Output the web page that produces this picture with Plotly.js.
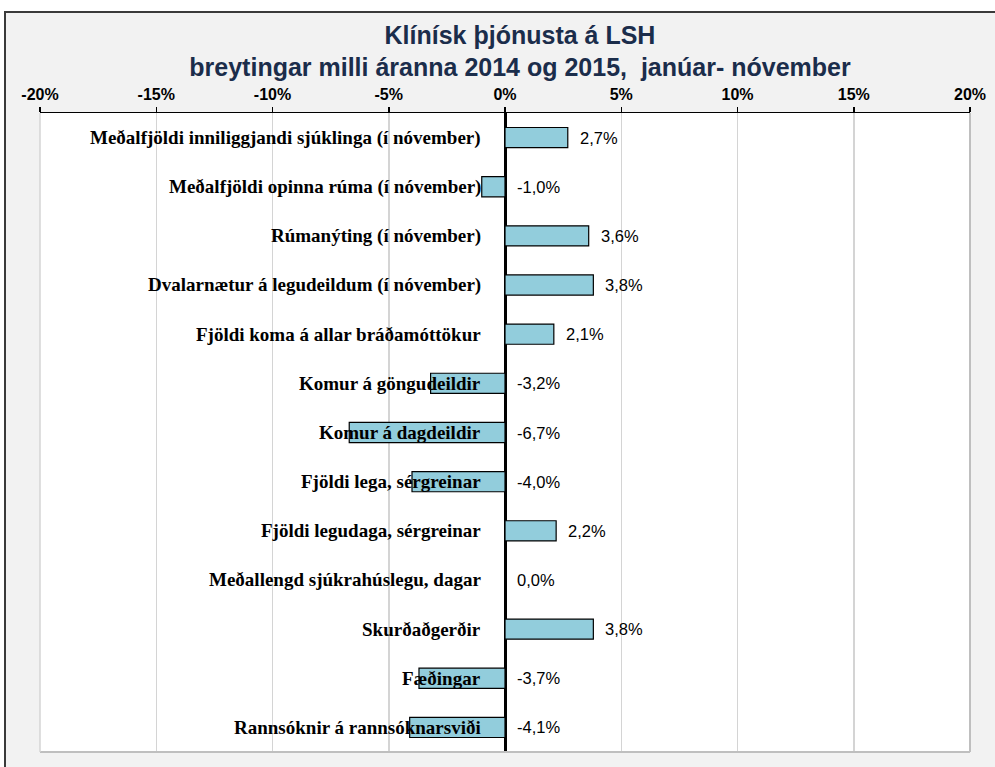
<!DOCTYPE html>
<html>
<head>
<meta charset="utf-8">
<script src="https://cdn.plot.ly/plotly-3.0.1.min.js"></script>
<style>
  html, body { margin: 0; padding: 0; background: #ffffff; }
  #frame { position: absolute; left: 4px; top: 11px; width: 1000px; height: 770px;
           background: #f2f2f2; border-left: 2px solid #3a3a3a; border-top: 2px solid #3a3a3a; }
  #chart { position: absolute; left: 0; top: 0; width: 995px; height: 767px; }
</style>
</head>
<body>
<div id="frame"></div>
<div id="chart"></div>
<script>
// ---- data ----
const categories = [
  "Meðalfjöldi inniliggjandi sjúklinga (í nóvember)",
  "Meðalfjöldi opinna rúma (í nóvember)",
  "Rúmanýting (í nóvember)",
  "Dvalarnætur á legudeildum (í nóvember)",
  "Fjöldi koma á allar bráðamóttökur",
  "Komur á göngudeildir",
  "Komur á dagdeildir",
  "Fjöldi lega, sérgreinar",
  "Fjöldi legudaga, sérgreinar",
  "Meðallengd sjúkrahúslegu, dagar",
  "Skurðaðgerðir",
  "Fæðingar",
  "Rannsóknir á rannsóknarsviði"
];
const changePct = [2.7, -1.0, 3.6, 3.8, 2.1, -3.2, -6.7, -4.0, 2.2, 0.0, 3.8, -3.7, -4.1];
const tickValues = [-20, -15, -10, -5, 0, 5, 10, 15, 20];
const tickLabels = ["-20%", "-15%", "-10%", "-5%", "0%", "5%", "10%", "15%", "20%"];

const fmt = v => v.toFixed(1).replace('.', ',') + '%';

const trace = {
  type: 'bar',
  orientation: 'h',
  x: changePct,
  y: categories,
  marker: { color: '#92cddc', line: { color: '#000000', width: 1.2 } },
  hoverinfo: 'x+y'
};

const annotations = [];
categories.forEach((c, i) => {
  annotations.push({
    x: 0, y: c, xref: 'x', yref: 'y',
    text: c, showarrow: false, xanchor: 'right', xshift: -22,
    font: { family: 'Liberation Serif, Times New Roman, serif', size: 19, color: '#000000', weight: 'bold' }
  });
  const v = changePct[i];
  annotations.push({
    x: v > 0 ? v : 0, y: c, xref: 'x', yref: 'y',
    text: fmt(v), showarrow: false, xanchor: 'left', xshift: 10,
    font: { family: 'Liberation Sans, Arial, sans-serif', size: 16.5, color: '#000000' }
  });
});

const layout = {
  width: 995, height: 767,
  margin: { l: 40, r: 25, t: 113, b: 15, pad: 0 },
  paper_bgcolor: 'rgba(0,0,0,0)',
  plot_bgcolor: '#ffffff',
  showlegend: false,
  bargap: 0.59,
  title: {
    text: 'Klínísk þjónusta á LSH<br>breytingar milli áranna 2014 og 2015,  janúar- nóvember',
    x: 0.5226, xanchor: 'center', xref: 'container',
    y: 0.943, yanchor: 'top', yref: 'container',
    font: { family: 'Liberation Sans, Arial, sans-serif', size: 25, color: '#1b2d4b', weight: 'bold' }
  },
  xaxis: {
    side: 'top',
    range: [-20, 20],
    tickvals: tickValues,
    ticktext: tickLabels,
    tickfont: { family: 'Liberation Sans, Arial, sans-serif', size: 16, color: '#000000', weight: 'bold' },
    showline: true, linecolor: '#000000', linewidth: 1.5,
    ticks: 'outside', ticklen: 5, tickcolor: '#000000', tickwidth: 1.5,
    showgrid: true, gridcolor: '#d4d4d4', gridwidth: 1.5,
    zeroline: true, zerolinecolor: '#000000', zerolinewidth: 3,
    fixedrange: true
  },
  yaxis: {
    type: 'category',
    autorange: 'reversed',
    showticklabels: false,
    showgrid: false, zeroline: false, showline: false, ticks: '',
    fixedrange: true
  },
  shapes: [
    { type: 'line', xref: 'paper', yref: 'paper', x0: 1, x1: 1, y0: 0, y1: 1,
      line: { color: '#bfbfbf', width: 2 } },
    { type: 'line', xref: 'paper', yref: 'paper', x0: 0, x1: 1, y0: 0, y1: 0,
      line: { color: '#bfbfbf', width: 2 } },
    { type: 'line', xref: 'paper', yref: 'paper', x0: 0, x1: 0, y0: 0, y1: 1,
      line: { color: '#d4d4d4', width: 1.5 } }
  ],
  annotations: annotations
};

Plotly.newPlot('chart', [trace], layout, { displayModeBar: false, staticPlot: true });
</script>
</body>
</html>
